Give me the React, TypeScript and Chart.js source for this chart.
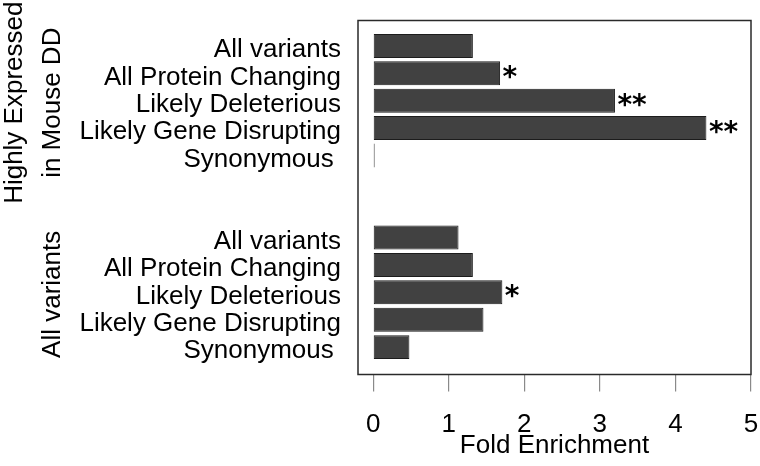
import React, { useEffect, useRef } from "react";
import { Chart, registerables } from "chart.js";

Chart.register(...registerables);

// ---- data ----
const groupLabels: string[][] = [["Highly Expressed", "in Mouse DD"], ["All variants"]];
const categories = ["All variants", "All Protein Changing", "Likely Deleterious", "Likely Gene Disrupting", "Synonymous "];
const highlyExpressedValues = [1.32, 1.68, 3.2, 4.41, 0.02];
const allVariantsValues = [1.13, 1.32, 1.71, 1.46, 0.48];
const highlyExpressedStars = ["", "*", "**", "**", ""];
const allVariantsStars = ["", "", "*", "", ""];
const xTickValues = [0, 1, 2, 3, 4, 5];
const xAxisTitle = "Fold Enrichment";

const GROUP_STRIDE = 7; // 5 bars + 2 empty slots
const groupValues = [highlyExpressedValues, allVariantsValues];
const groupStars = [highlyExpressedStars, allVariantsStars];

const points: { x: number; y: number }[] = [];
const stars: string[] = [];
const labelByPos: Record<number, string> = {};
groupValues.forEach((vals, g) => {
  vals.forEach((v, i) => {
    const pos = g * GROUP_STRIDE + i;
    points.push({ x: v, y: pos });
    stars.push(groupStars[g][i]);
    labelByPos[pos] = categories[i];
  });
});
const yPositions = points.map((p) => p.y);

const FONT = "'Liberation Sans', Arial, Helvetica, sans-serif";

const decorPlugin = {
  id: "decor",
  afterDatasetsDraw(chart: any) {
    const { ctx, chartArea } = chart;
    ctx.save();
    // frame box
    ctx.strokeStyle = "#2a2a2a";
    ctx.lineWidth = 1.5;
    ctx.strokeRect(chartArea.left, chartArea.top, chartArea.right - chartArea.left, chartArea.bottom - chartArea.top);

    // significance stars
    const meta = chart.getDatasetMeta(0);
    ctx.fillStyle = "#000";
    ctx.font = "bold 28px 'DejaVu Sans', sans-serif";
    ctx.textAlign = "left";
    ctx.textBaseline = "alphabetic";
    meta.data.forEach((bar: any, i: number) => {
      const s = stars[i];
      if (!s) return;
      const m = ctx.measureText(s);
      const asc = m.actualBoundingBoxAscent;
      const desc = m.actualBoundingBoxDescent;
      const baseY = bar.y - 1 - (desc - asc) / 2;
      const x = bar.x + 2.5 + m.actualBoundingBoxLeft;
      ctx.fillText(s, x, baseY);
    });

    // group labels (rotated)
    const yScale = chart.scales.y;
    ctx.font = `26px ${FONT}`;
    ctx.textAlign = "center";
    ctx.textBaseline = "alphabetic";
    const baselines = [[21.7, 60], [60]];
    groupLabels.forEach((lines, g) => {
      const cy = yScale.getPixelForValue(g * GROUP_STRIDE + 2) + 2;
      lines.forEach((line, li) => {
        ctx.save();
        ctx.translate(baselines[g][li], cy);
        ctx.rotate(-Math.PI / 2);
        ctx.fillText(line, 0, 0);
        ctx.restore();
      });
    });
    ctx.restore();
  },
};

export default function App() {
  const ref = useRef<HTMLCanvasElement | null>(null);
  useEffect(() => {
    if (!ref.current) return;
    const chart = new Chart(ref.current, {
      type: "bar",
      data: {
        datasets: [
          {
            data: points as any,
            backgroundColor: "#414141",
            borderColor: "#1c1c1c",
            borderWidth: 1,
            borderSkipped: false,
            barPercentage: 0.876,
            categoryPercentage: 1,
          },
        ],
      },
      options: {
        indexAxis: "y",
        responsive: false,
        animation: false,
        layout: { padding: { top: 20.5, right: 9, left: 0, bottom: 0 } },
        plugins: { legend: { display: false }, tooltip: { enabled: false }, title: { display: false } },
        scales: {
          x: {
            type: "linear",
            position: "bottom",
            min: -0.2,
            max: 5,
            afterBuildTicks: (scale: any) => {
              scale.ticks = xTickValues.map((v) => ({ value: v }));
            },
            afterFit: (scale: any) => {
              scale.height = 91.5;
              scale.paddingLeft = 0;
              scale.paddingRight = 0;
              scale.paddingTop = 0;
              scale.paddingBottom = 0;
            },
            border: { display: false },
            grid: { drawOnChartArea: false, drawTicks: true, tickLength: 17, color: "#8a8a8a", lineWidth: 1.2 },
            ticks: {
              font: { family: FONT, size: 26 },
              color: "#000",
              padding: 18,
              maxRotation: 0,
              autoSkip: false,
            },
            title: {
              display: true,
              text: xAxisTitle,
              font: { family: FONT, size: 26 },
              color: "#000",
              padding: { top: 0, bottom: 5 },
            },
          },
          y: {
            type: "linear",
            position: "left",
            reverse: true,
            offset: false,
            min: -0.93,
            max: 12.0,
            afterBuildTicks: (scale: any) => {
              scale.ticks = yPositions.map((v) => ({ value: v }));
            },
            afterFit: (scale: any) => {
              scale.width = 358;
              scale.paddingLeft = 0;
              scale.paddingRight = 0;
              scale.paddingTop = 0;
              scale.paddingBottom = 0;
            },
            border: { display: false },
            grid: { display: false, drawTicks: false, offset: false },
            ticks: {
              font: { family: FONT, size: 26 },
              color: "#000",
              padding: 17,
              labelOffset: 4,
              autoSkip: false,
              callback: (v: any) => labelByPos[v as number] ?? "",
            },
          },
        },
      },
      plugins: [decorPlugin],
    });
    return () => chart.destroy();
  }, []);
  return (
    <div style={{ position: "absolute", left: 0, top: 0, width: 760, height: 466, background: "#fff" }}>
      <canvas ref={ref} width={760} height={466} />
    </div>
  );
}
